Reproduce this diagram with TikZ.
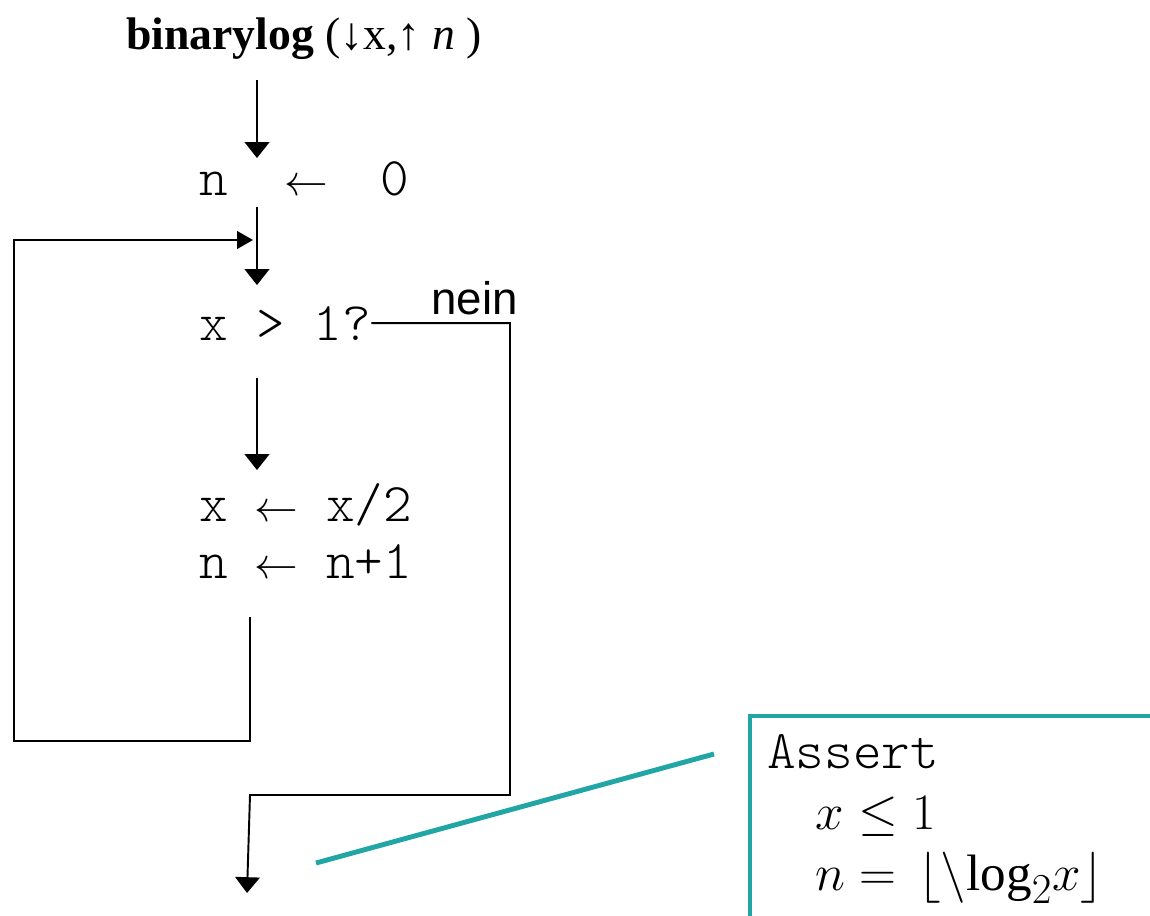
\documentclass[tikz,border=0pt]{standalone}
\usepackage{amsmath,amssymb}
\usepackage{graphicx}
\usepackage{fontspec}
\setmainfont{Liberation Serif}
\newfontfamily\neinfont{Liberation Sans}
\usetikzlibrary{arrows.meta}
\definecolor{ink}{RGB}{0,0,0}
\definecolor{cAssert}{RGB}{34,165,165}
\tikzset{
  ln/.style={draw=ink,line width=1.1pt},
  ar/.style={ln,-{Triangle[width=14pt,length=9pt]}},
  arsm/.style={ln,-{Triangle[width=10pt,length=9pt]}},
  code/.style={anchor=base west,inner sep=0pt,
    font=\ttfamily\fontseries{l}\fontsize{31}{36}\selectfont},
  headline/.style={anchor=base west,inner sep=0pt,
    font=\fontsize{26}{31}\selectfont},
  tag/.style={anchor=base west,inner sep=0pt,
    font=\neinfont\fontsize{26}{31}\selectfont},
  mth/.style={anchor=base west,inner sep=0pt,
    font=\fontsize{24.88}{30}\selectfont},
  abox/.style={draw=cAssert,line width=2.3pt,anchor=north west,
    minimum width=9cm,minimum height=5cm,fill=white},
  note/.style={draw=cAssert,line width=2.8pt},
}
\newcommand{\bigmath}[1]{\scalebox{1.17}{$#1$}}

\begin{document}
\begin{tikzpicture}[x=0.02cm,y=-0.02cm]
  \clip (0,0) rectangle (1150,916);
  \node[headline] (head) at (126,50)
     {\textbf{binarylog} (↓x,↑ \textit{n} )};
  \node[code] (init) at (199,195) {n\hspace{32pt}$\leftarrow$\hspace{30pt}0};
  \node[code] (test) at (199,340) {x > 1?};
  \node[tag]  (no)   at (431,314) {nein};
  \node[code] (upd1) at (199,521) {x\hspace{15pt}$\leftarrow$\hspace{16pt}x/2};
  \node[code] (upd2) at (199,578) {n\hspace{15pt}$\leftarrow$\hspace{16pt}n+1};
  % column and loop points
  \coordinate (c0)    at (257,80);
  \coordinate (c1)    at (257,158);
  \coordinate (c2)    at (257,207);
  \coordinate (c3)    at (257,285);
  \coordinate (c4)    at (257,378);
  \coordinate (c5)    at (257,470);
  \coordinate (lpbot) at (250,617);
  \coordinate (lpl)   at (14,741);
  \coordinate (merge) at (253,240);
  \coordinate (xr)    at (510,795);
  \coordinate (xl)    at (250,795);
  \coordinate (stop)  at (247,893);
  \draw[ar] (c0) -- (c1);
  \draw[ar] (c2) -- (c3);
  \draw[ar] (c4) -- (c5);
  \draw[arsm] (lpbot) |- (lpl) |- (merge);
  \draw[ar] (test.east) -| (xr) -- (xl) -- (stop);
  % assertion box
  \node[abox] (asrt) at (748,714) {};
  \node[code] (akw) at (767,768) {Assert};
  \node[mth]  (as1) at (815,829) {\bigmath{x \le 1}};
  \node[mth]  (as2) at (815,890)
     {\bigmath{n = \hspace{0.15em}\lfloor\backslash\mathrm{log}_2 x\rfloor}};
  \coordinate (nf) at (316,863);
  \coordinate (nt) at (714,754);
  \draw[note] (nf) -- (nt);
\end{tikzpicture}
\end{document}
